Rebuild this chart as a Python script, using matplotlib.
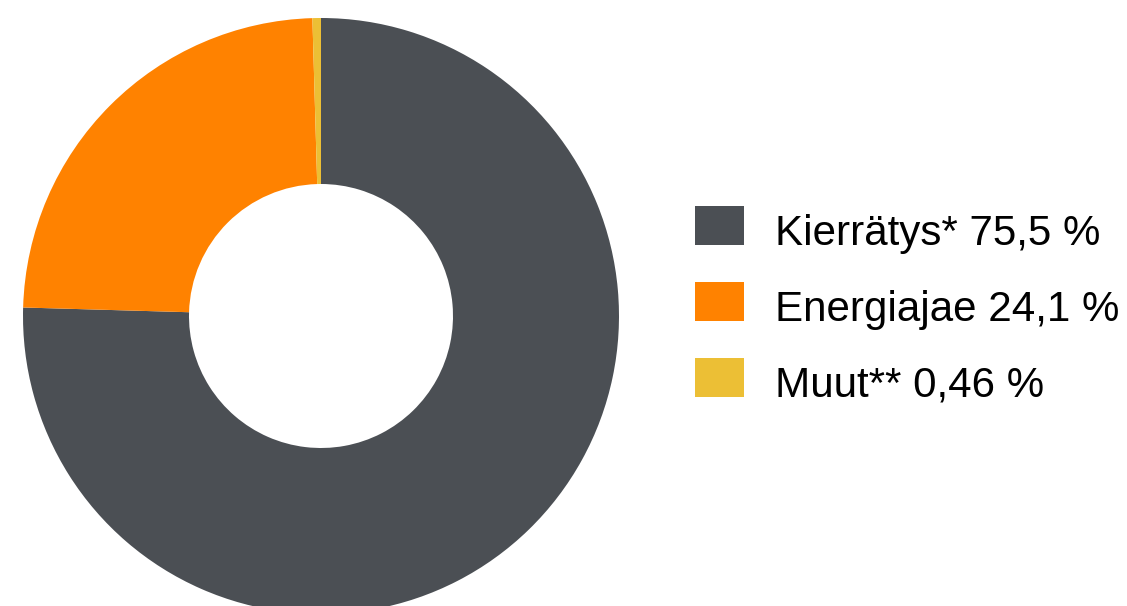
import matplotlib
matplotlib.use("Agg")
import matplotlib.pyplot as plt
from matplotlib.patches import Rectangle

# data
labels = ["Kierrätys* 75,5 %", "Energiajae 24,1 %", "Muut** 0,46 %"]
values = [75.5, 24.1, 0.46]
colors = ["#4b4f54", "#ff8200", "#ecbf35"]

W, H = 1127, 606
fig = plt.figure(figsize=(W / 100, H / 100), dpi=100)
plt.rcParams['font.family'] = ['Liberation Sans', 'DejaVu Sans']

# donut, centre (321, 316) px from top, radius 298 px
cx, cy, r = 321, 316, 298
ax = fig.add_axes([(cx - r) / W, (H - cy - r) / H, 2 * r / W, 2 * r / H])
ax.pie(values, colors=colors, startangle=90, counterclock=False, radius=1,
       wedgeprops=dict(width=1 - 132 / 298, linewidth=0))
ax.set_xlim(-1, 1)
ax.set_ylim(-1, 1)
ax.set_aspect('equal')
ax.axis('off')

# legend
for i, (lab, col) in enumerate(zip(labels, colors)):
    top = 206 + i * 76
    fig.patches.append(Rectangle((695 / W, (H - top - 39) / H), 49 / W, 39 / H,
                                 transform=fig.transFigure, color=col, linewidth=0))
    fig.text(775 / W, (H - top - 39) / H, lab, fontsize=30.3, color='black',
             va='baseline', ha='left')

fig.savefig("out.png", dpi=100)
